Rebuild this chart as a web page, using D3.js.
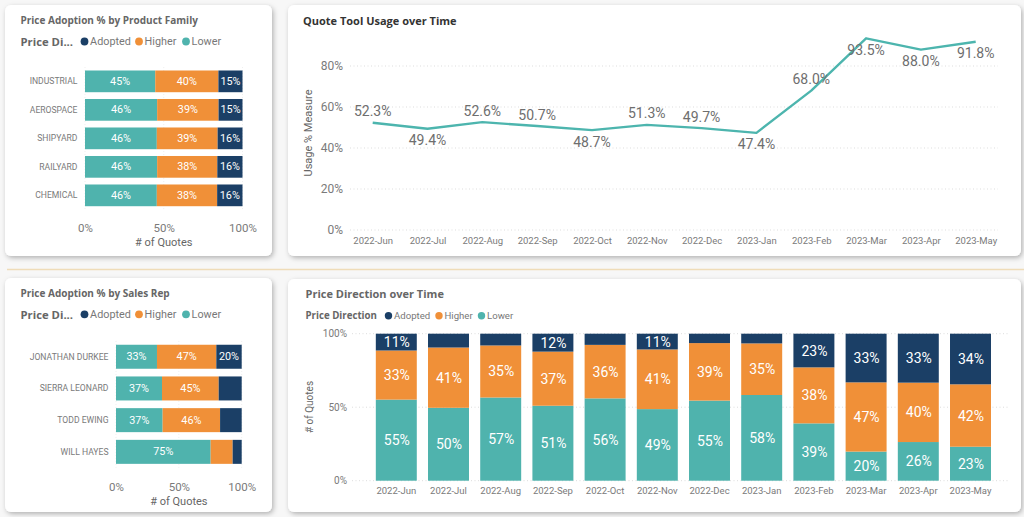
<!DOCTYPE html>
<html><head><meta charset="utf-8">
<script src="https://cdn.jsdelivr.net/npm/d3@7"></script>
<style>
html,body{margin:0;padding:0;background:#f7f7f7;overflow:hidden}
text{font-family:Roboto,"Open Sans",sans-serif}
text.b{font-family:"Open Sans",Roboto,sans-serif}
</style></head><body>
<svg id="c" width="1024" height="517"></svg>
<script>
const months=["2022-Jun","2022-Jul","2022-Aug","2022-Sep","2022-Oct","2022-Nov","2022-Dec","2023-Jan","2023-Feb","2023-Mar","2023-Apr","2023-May"];
const usage=[52.3,49.4,52.6,50.7,48.7,51.3,49.7,47.4,68.0,93.5,88.0,91.8];
const usageLabelSide=["up","down","up","up","down","up","up","down","up","down","down","down"];
const seriesNames=["Lower","Higher","Adopted"];
const legendNames=["Adopted","Higher","Lower"];
const families=["INDUSTRIAL","AEROSPACE","SHIPYARD","RAILYARD","CHEMICAL"];
const famLower=[44.6,45.8,45.6,45.8,45.6];
const famHigher=[40.1,39.0,38.6,38.2,38.3];
const famAdopted=[15.3,15.2,15.8,16.0,16.1];
const reps=["JONATHAN DURKEE","SIERRA LEONARD","TODD EWING","WILL HAYES"];
const repLower=[32.6,36.6,37.1,75.3];
const repHigher=[47.2,45.1,45.7,17.5];
const repAdopted=[20.2,18.3,17.2,7.2];
const monLower=[55.0,49.6,56.6,51.0,56.0,48.7,54.6,58.3,39.0,19.8,26.3,23.1];
const monHigher=[33.3,41.0,35.4,36.8,36.4,40.6,39.2,35.1,38.1,47.1,40.4,42.4];
const monAdopted=[11.4,9.4,8.0,12.2,7.6,10.7,6.4,6.6,22.9,33.1,33.3,34.4];
const pctTicks=[0,0.5,1];
const usageTicks=[0,20,40,60,80];

const color={Lower:"#4FB3AD",Higher:"#F09038",Adopted:"#1B3F66"};
const GREY="#666",TICK="#7a7a7a";
const svg=d3.select("#c");
const defs=svg.append("defs");
const f=defs.append("filter").attr("id","sh").attr("x","-5%").attr("y","-5%").attr("width","112%").attr("height","112%");
f.append("feDropShadow").attr("dx",1.5).attr("dy",2).attr("stdDeviation",2.5).attr("flood-color","#000").attr("flood-opacity",.28);

function card(x,y,w,h){svg.append("rect").attr("x",x).attr("y",y).attr("width",w).attr("height",h).attr("rx",6).attr("fill","#fff").attr("filter","url(#sh)");}
function txt(s,x,y,o={}){
  const t=svg.append("text").attr("x",x).attr("y",y).attr("dominant-baseline","central")
   .attr("font-size",o.size||10).attr("fill",o.fill||GREY).attr("text-anchor",o.anchor||"start")
   .attr("font-weight",o.weight||400).classed("b",(o.weight||400)>=700).text(s);
  if(o.rotate)t.attr("transform",`rotate(-90 ${x} ${y})`);
  return t;
}
function legend(title,tx,y,titleSize,size,slots){
  txt(title,tx,y,{size:titleSize,weight:700});
  legendNames.forEach((n,i)=>{
    svg.append("circle").attr("cx",slots[i]).attr("cy",y).attr("r",size*0.36).attr("fill",color[n]);
    txt(n,slots[i]+size*0.52,y,{size:size,fill:"#777"});
  });
}
function stackOf(keysRows){
  return d3.stack().keys(seriesNames).offset(d3.stackOffsetExpand)(keysRows);
}
function rows(cats,a,b,c){return cats.map((k,i)=>({k,Lower:a[i],Higher:b[i],Adopted:c[i]}));}

function hBar(cats,a,b,c,o){
  const x=d3.scaleLinear().domain([0,1]).range([o.x0,o.x1]);
  const y=d3.scaleBand().domain(cats).range([o.y0,o.y1]).paddingInner(o.pad).paddingOuter(o.pad/2);
  const g=svg.append("g");
  pctTicks.forEach(t=>g.append("line").attr("x1",x(t)).attr("x2",x(t)).attr("y1",o.y0).attr("y2",o.y1).attr("stroke","#eee").attr("stroke-dasharray","1 2"));
  const ax=svg.append("g").attr("transform",`translate(0,${o.tickY})`).call(d3.axisBottom(x).tickValues(pctTicks).tickFormat(d3.format(".0%")).tickSize(0));
  ax.select(".domain").remove();
  ax.selectAll("text").attr("y",0).attr("dy",0).attr("dominant-baseline","central").attr("font-size",11.5).attr("fill",TICK).attr("font-family",null);
  const ay=svg.append("g").attr("transform",`translate(${o.x0-7.5},0)`).call(d3.axisLeft(y).tickSize(0).tickPadding(0));
  ay.select(".domain").remove();
  ay.selectAll("text").attr("font-size",o.catSize).attr("fill",TICK).attr("font-family",null);
  stackOf(rows(cats,a,b,c)).forEach(s=>{
    const raw={Lower:a,Higher:b,Adopted:c}[s.key];
    s.forEach((d,i)=>{
      svg.append("rect").attr("x",x(d[0])).attr("y",y(cats[i])).attr("width",x(d[1])-x(d[0])).attr("height",y.bandwidth()).attr("fill",color[s.key]);
      if(raw[i]>=o.minLabel) txt(Math.round(raw[i])+"%",(x(d[0])+x(d[1]))/2,y(cats[i])+y.bandwidth()/2,{size:10.8,fill:"#fff",anchor:"middle"});
    });
  });
  txt("# of Quotes",(o.x0+o.x1)/2,o.titleY,{size:11,anchor:"middle",fill:"#666"});
}

card(5,5,267,251);card(288,5,733,251);card(5,278,267,234);card(288,279,733,233);
svg.append("line").attr("x1",7).attr("x2",1024).attr("y1",269.5).attr("y2",269.5).attr("stroke","#efdcb8").attr("stroke-width",1.5);

txt("Price Adoption % by Product Family",20.5,20,{size:10,weight:700});
legend("Price Di...",20.5,41.5,11.3,10.8,[84.5,139,186]);
hBar(families,famLower,famHigher,famAdopted,{x0:85,x1:242.5,y0:67.1,y1:209.6,pad:.238,tickY:228,titleY:242.5,catSize:8.6,minLabel:15});

txt("Price Adoption % by Sales Rep",20.5,292.5,{size:10,weight:700});
legend("Price Di...",20.5,314.3,11.3,10.8,[84.5,139,186]);
hBar(reps,repLower,repHigher,repAdopted,{x0:116,x1:241.7,y0:340.9,y1:467.7,pad:.243,tickY:487,titleY:501,catSize:8.6,minLabel:20});

// Quote tool usage line
txt("Quote Tool Usage over Time",303,20,{size:11,weight:700,fill:"#333"});
{
  const x=d3.scalePoint().domain(months).range([372.7,975.7]);
  const y=d3.scaleLinear().domain([0,80]).range([230,66]);
  usageTicks.forEach(t=>svg.append("line").attr("x1",350).attr("x2",998).attr("y1",y(t)).attr("y2",y(t)).attr("stroke","#ddd").attr("stroke-dasharray","1 2.5"));
  const ay=svg.append("g").attr("transform","translate(343,0)").call(d3.axisLeft(y).tickValues(usageTicks).tickFormat(d=>d+"%").tickSize(0).tickPadding(0));
  ay.select(".domain").remove();
  ay.selectAll("text").attr("font-size",12).attr("fill",TICK).attr("font-family",null);
  const ax=svg.append("g").attr("transform","translate(0,240)").call(d3.axisBottom(x).tickSize(0));
  ax.select(".domain").remove();
  ax.selectAll("text").attr("y",0).attr("dy",0).attr("dominant-baseline","central").attr("font-size",9.5).attr("fill",TICK).attr("font-family",null);
  txt("Usage % Measure",308,133,{size:11,rotate:true,anchor:"middle",fill:"#666"});
  svg.append("path").datum(usage).attr("fill","none").attr("stroke","#4DB5AE").attr("stroke-width",2.4).attr("stroke-linejoin","round")
    .attr("d",d3.line().x((d,i)=>x(months[i])).y(d=>y(d)));
  usage.forEach((v,i)=>txt(v.toFixed(1)+"%",x(months[i]),y(v)+(usageLabelSide[i]==="up"?-11.5:11.5),{size:14,anchor:"middle",fill:"#6e6e6e"}));
}

// Price direction stacked columns
txt("Price Direction over Time",305.5,293,{size:11,weight:700});
txt("Price Direction",305.5,315.7,{size:9.7,weight:700});
legendNames.forEach((n,i)=>{
  const c=[388.5,439,481.5][i];
  svg.append("circle").attr("cx",c).attr("cy",315.7).attr("r",3.7).attr("fill",color[n]);
  txt(n,c+5.5,315.7,{size:9.6,fill:"#777"});
});
{
  const x=d3.scaleBand().domain(months).range([370.2,996.6]).paddingInner(.215).paddingOuter(.1075);
  const y=d3.scaleLinear().domain([0,1]).range([480.7,333.7]);
  pctTicks.forEach(t=>svg.append("line").attr("x1",352).attr("x2",1010).attr("y1",y(t)).attr("y2",y(t)).attr("stroke","#ddd").attr("stroke-dasharray","1 2.5"));
  const ay=svg.append("g").attr("transform","translate(347,0)").call(d3.axisLeft(y).tickValues(pctTicks).tickFormat(d3.format(".0%")).tickSize(0).tickPadding(0));
  ay.select(".domain").remove();
  ay.selectAll("text").attr("font-size",10).attr("fill",TICK).attr("font-family",null);
  const ax=svg.append("g").attr("transform","translate(0,490.7)").call(d3.axisBottom(x).tickSize(0));
  ax.select(".domain").remove();
  ax.selectAll("text").attr("y",0).attr("dy",0).attr("dominant-baseline","central").attr("font-size",9.5).attr("fill",TICK).attr("font-family",null);
  txt("# of Quotes",309,407,{size:10,rotate:true,anchor:"middle",fill:"#666"});
  stackOf(rows(months,monLower,monHigher,monAdopted)).forEach(s=>{
    const raw={Lower:monLower,Higher:monHigher,Adopted:monAdopted}[s.key];
    s.forEach((d,i)=>{
      svg.append("rect").attr("x",x(months[i])).attr("y",y(d[1])).attr("width",x.bandwidth()).attr("height",y(d[0])-y(d[1])).attr("fill",color[s.key]);
      if(raw[i]>=10.5) txt(Math.round(raw[i])+"%",x(months[i])+x.bandwidth()/2+.5,(y(d[0])+y(d[1]))/2,{size:14,fill:"#fff",anchor:"middle"});
    });
  });
}
</script></body></html>
